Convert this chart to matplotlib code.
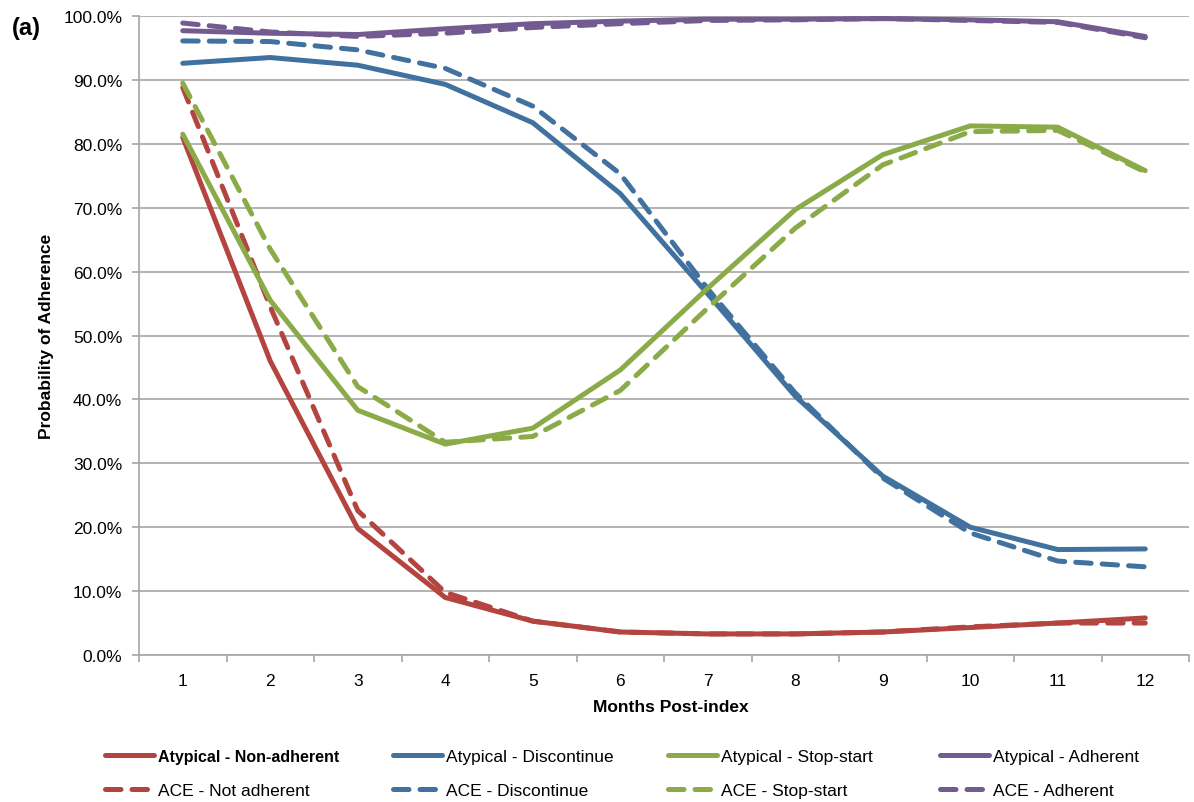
import matplotlib
matplotlib.use("Agg")
import matplotlib.pyplot as plt
from matplotlib.ticker import FuncFormatter, FixedLocator

plt.rcParams['font.family'] = ['Liberation Sans', 'DejaVu Sans']

months = list(range(1, 13))
atyp_nonadherent = [81.0, 46.0, 19.8, 9.0, 5.3, 3.6, 3.3, 3.3, 3.6, 4.3, 5.0, 5.8]
ace_notadherent = [88.8, 54.5, 22.6, 9.8, 5.3, 3.6, 3.3, 3.3, 3.6, 4.4, 5.0, 5.0]
atyp_discontinue = [92.6, 93.5, 92.3, 89.3, 83.3, 72.2, 56.5, 40.5, 28.0, 20.0, 16.5, 16.6]
ace_discontinue = [96.1, 96.0, 94.7, 91.8, 85.9, 75.3, 57.3, 41.0, 27.7, 19.1, 14.7, 13.8]
atyp_stopstart = [81.5, 55.5, 38.3, 33.0, 35.5, 44.6, 57.4, 69.7, 78.3, 82.8, 82.6, 75.8]
ace_stopstart = [89.5, 63.5, 42.0, 33.3, 34.2, 41.4, 54.3, 66.8, 76.7, 81.9, 82.1, 75.6]
atyp_adherent = [97.7, 97.3, 97.1, 98.0, 98.8, 99.2, 99.5, 99.5, 99.6, 99.4, 99.1, 96.8]
ace_adherent = [98.9, 97.5, 96.8, 97.3, 98.2, 98.8, 99.3, 99.4, 99.6, 99.3, 99.0, 96.6]

labels = ["Atypical - Non-adherent", "ACE - Not adherent",
          "Atypical - Discontinue", "ACE - Discontinue",
          "Atypical - Stop-start", "ACE - Stop-start",
          "Atypical - Adherent", "ACE - Adherent"]
series = [atyp_nonadherent, ace_notadherent, atyp_discontinue, ace_discontinue,
          atyp_stopstart, ace_stopstart, atyp_adherent, ace_adherent]
colors = ["#B4443F", "#B4443F", "#41719F", "#41719F",
          "#8BAA48", "#8BAA48", "#735B91", "#735B91"]

fig = plt.figure(figsize=(11.94, 8.03), dpi=100)
ax = fig.add_axes([139/1194, 1-656/803, (1189-139)/1194, (656-17)/803])

grid_c = "#A6A6A6"
handles = []
for i, (s, c) in enumerate(zip(series, colors)):
    if i % 2 == 0:
        h, = ax.plot(months, s, color=c, lw=3.6, solid_capstyle='round', solid_joinstyle='round',
                     label=labels[i], zorder=3)
    else:
        h, = ax.plot(months, s, color=c, lw=3.6, linestyle=(0, (3.1, 2.2)), dash_capstyle='round',
                     dash_joinstyle='round', label=labels[i], zorder=3)
    handles.append(h)

ax.set_xlim(0.5, 12.5)
ax.set_ylim(0, 100)
ax.set_yticks(range(0, 101, 10))
ax.yaxis.set_major_formatter(FuncFormatter(lambda v, p: f"{v:.1f}%"))
ax.set_xticks(months)
ax.set_xticklabels([str(m) for m in months])
ax.xaxis.set_minor_locator(FixedLocator([m + 0.5 for m in range(0, 13)]))
ax.tick_params(axis='x', which='major', length=0, pad=13, labelsize=12.5)
ax.tick_params(axis='x', which='minor', length=5, color=grid_c, width=1.2)
ax.tick_params(axis='y', length=5, color=grid_c, width=1.2, labelsize=12.5, pad=7)
ax.grid(axis='y', color=grid_c, lw=1.2, zorder=0)
ax.set_axisbelow(True)
for side in ['top', 'right']:
    ax.spines[side].set_visible(False)
for side in ['left', 'bottom']:
    ax.spines[side].set_color(grid_c)
    ax.spines[side].set_linewidth(1.2)

ax.set_xlabel("Months Post-index", fontsize=12.5, fontweight='bold')
ax.set_ylabel("Probability of Adherence", fontsize=12.5, fontweight='bold')
ax.xaxis.label.set_va('center')
ax.yaxis.label.set_va('center')
W = 1189 - 139
ax.xaxis.set_label_coords((671 - 139) / W, (656 - 708) / 639)
ax.yaxis.set_label_coords((47 - 139) / W, (656 - 336) / 639)

fig.text(12/1194, 1-29/803, "(a)", fontsize=17, fontweight='bold', va='center', ha='left')

col_x = [105, 393, 668, 940]
for k, x0 in enumerate(col_x):
    leg = fig.legend(handles[2*k:2*k+2], labels[2*k:2*k+2], loc='center left',
                     bbox_to_anchor=(x0/1194, 1-774.5/803), borderaxespad=0, borderpad=0,
                     frameon=False, fontsize=12.5, handlelength=2.85, handletextpad=0.18,
                     labelspacing=1.05)
    if k == 0:
        t = leg.get_texts()[0]
        t.set_fontweight('bold')
        t.set_fontsize(11.5)

fig.savefig("out.png", dpi=100)
